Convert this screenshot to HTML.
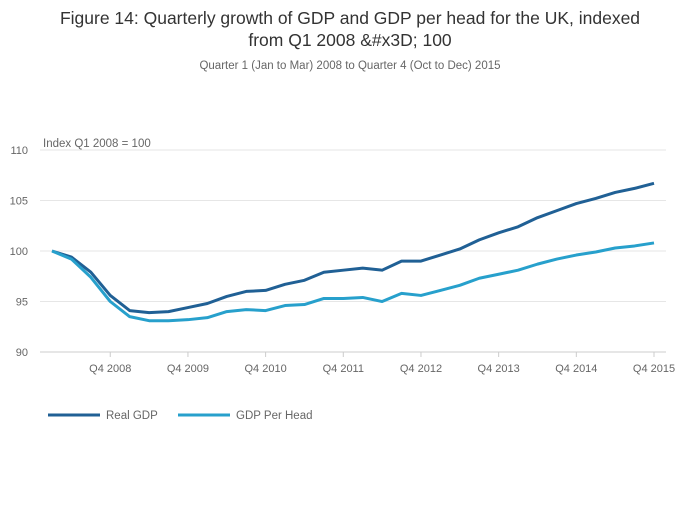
<!DOCTYPE html>
<html><head><meta charset="utf-8"><style>
body{margin:0;background:#fff;font-family:"Liberation Sans",sans-serif;}
</style></head><body>
<svg width="700" height="502" xmlns="http://www.w3.org/2000/svg" font-family="Liberation Sans, sans-serif">
<text x="350" y="24" text-anchor="middle" font-size="17.5" fill="#333">Figure 14: Quarterly growth of GDP and GDP per head for the UK, indexed</text>
<text x="350" y="46" text-anchor="middle" font-size="17.5" fill="#333">from Q1 2008 &amp;#x3D; 100</text>
<text x="350" y="69" text-anchor="middle" font-size="11.5" fill="#666">Quarter 1 (Jan to Mar) 2008 to Quarter 4 (Oct to Dec) 2015</text>
<text x="43" y="147" font-size="11.5" fill="#666">Index Q1 2008 = 100</text>
<g id="grid"></g><g id="xt"></g><g id="lines"></g>
<g>
<line x1="48" y1="415" x2="100" y2="415" stroke="#206095" stroke-width="3"/>
<text x="106" y="419" font-size="11.5" fill="#666">Real GDP</text>
<line x1="178" y1="415" x2="230" y2="415" stroke="#27a0cc" stroke-width="3"/>
<text x="236" y="419" font-size="11.5" fill="#666">GDP Per Head</text>
</g>
</svg>
<script>
const yTicks=[90,95,100,105,110];
const xTickLabels=["Q4 2008","Q4 2009","Q4 2010","Q4 2011","Q4 2012","Q4 2013","Q4 2014","Q4 2015"];
const xTickIdx=[3,7,11,15,19,23,27,31];
const realGDP=[100,99.4,97.9,95.6,94.1,93.9,94.0,94.4,94.8,95.5,96.0,96.1,96.7,97.1,97.9,98.1,98.3,98.1,99.0,99.0,99.6,100.2,101.1,101.8,102.4,103.3,104.0,104.7,105.2,105.8,106.2,106.7];
const gdpPerHead=[100,99.2,97.4,95.0,93.5,93.1,93.1,93.2,93.4,94.0,94.2,94.1,94.6,94.7,95.3,95.3,95.4,95.0,95.8,95.6,96.1,96.6,97.3,97.7,98.1,98.7,99.2,99.6,99.9,100.3,100.5,100.8];
const NS="http://www.w3.org/2000/svg";
const X=i=>52+i*(602/31), Y=v=>352-(v-90)*10.1;
const g=document.getElementById('grid'),xt=document.getElementById('xt'),L=document.getElementById('lines');
function mk(t,a,p){const e=document.createElementNS(NS,t);for(const k in a)e.setAttribute(k,a[k]);p.appendChild(e);return e;}
yTicks.forEach(v=>{
 const l=mk('line',{x1:40,x2:666,y1:Y(v),y2:Y(v),stroke:v===90?'#ccc':'#e6e6e6','stroke-width':1},g);
 
 
 const t=mk('text',{x:28,y:Y(v)+4,'text-anchor':'end','font-size':11,fill:'#666'},g);t.textContent=v;
 
 
});
xTickLabels.forEach((s,k)=>{
 const x=X(xTickIdx[k]);
 const tk=mk('line',{x1:x,x2:x,y1:352,y2:357,stroke:'#ccc'},xt);
 
 
 const t=mk('text',{x:x,y:372,'text-anchor':'middle','font-size':11,fill:'#666'},xt);t.textContent=s;
 
 
});
[[realGDP,'#206095','real-gdp-line'],[gdpPerHead,'#27a0cc','gdp-per-head-line']].forEach(([d,c,n])=>{
 const p=mk('polyline',{points:d.map((v,i)=>X(i)+','+Y(v)).join(' '),fill:'none',stroke:c,'stroke-width':3,'stroke-linejoin':'round'},L);
 
 
});
</script>
</body></html>
